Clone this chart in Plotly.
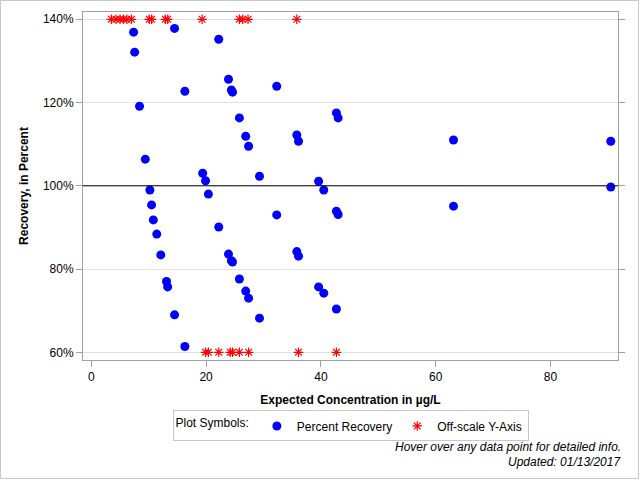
import plotly.graph_objects as go

# Percent recovery points (expected concentration in ug/L, recovery %)
rec_x = [7.37, 7.55, 14.5, 16.3, 8.4, 9.4, 19.4, 19.9, 22.2, 23.9, 24.4, 24.6, 32.3,
         25.8, 26.9, 27.4, 35.8, 36.1, 42.7, 43.0, 29.3, 39.6, 10.2, 10.5, 10.8, 11.4,
         12.1, 13.1, 13.3, 14.5, 16.3, 20.4, 22.2, 32.3, 23.9, 24.4, 24.6, 35.8, 36.1,
         25.8, 26.9, 27.4, 29.3, 39.6, 40.5, 42.7, 43.0, 42.7, 40.5, 63.1, 90.5, 90.5, 63.1]
rec_y = [136.9, 132.1, 137.8, 122.7, 119.1, 106.4, 103.0, 101.2, 135.2, 125.6, 123.0, 122.5, 123.9,
         116.3, 111.9, 109.5, 112.2, 110.7, 117.5, 116.3, 102.3, 101.1, 99.0, 95.4, 91.8, 88.4,
         83.4, 77.0, 75.7, 69.0, 61.4, 98.0, 90.1, 93.0, 83.6, 82.0, 81.7, 84.2, 83.1,
         77.6, 74.7, 73.0, 68.2, 75.7, 74.2, 93.9, 93.1, 70.4, 99.0, 111.0, 110.7, 99.7, 95.1]

# Off-scale points, plotted at the axis limits
off_x = [3.5, 4.3, 5.0, 5.6, 6.2, 7.0, 10.1, 10.5, 12.9, 13.3, 19.3, 25.8, 26.4, 27.3, 35.8,
         19.9, 20.4, 22.2, 24.2, 24.6, 25.8, 27.4, 36.1, 42.7]
off_y = [140] * 15 + [60] * 9

y_ticks = [60, 80, 100, 120, 140]
y_labels = ["60%", "80%", "100%", "120%", "140%"]
x_ticks = [0, 20, 40, 60, 80]

FONT = "Liberation Sans, Arial, sans-serif"

fig = go.Figure()
fig.add_trace(go.Scatter(
    x=rec_x, y=rec_y, mode="markers", name="Percent Recovery",
    marker=dict(symbol="circle", size=9, color="#0000FF", line=dict(width=0)),
))
fig.add_trace(go.Scatter(
    x=off_x, y=off_y, mode="markers", name="Off-scale Y-Axis",
    marker=dict(symbol="asterisk-open", size=8, color="#FF0000",
                line=dict(width=1.2, color="#FF0000")),
))

fig.update_layout(
    width=640, height=480,
    margin=dict(l=83, r=22, t=12, b=120),
    paper_bgcolor="white", plot_bgcolor="white",
    font=dict(family=FONT, size=12, color="#000000"),
    showlegend=True,
    legend=dict(
        orientation="h", x=0.5, xanchor="center", y=-0.145, yanchor="top",
        title=dict(text="Plot Symbols:", side="left", font=dict(size=12)),
        bordercolor="#C8C8C8", borderwidth=1, font=dict(size=12),
        itemwidth=30, tracegroupgap=0,
    ),
    xaxis=dict(
        range=[-1.45, 91.76], tickvals=x_ticks, showgrid=False, zeroline=False,
        showline=True, linecolor="#A0A0A0", linewidth=1, mirror=True,
        ticks="outside", ticklen=6, tickcolor="#A0A0A0",
        tickfont=dict(size=12, color="#000000"),
        title=dict(text="<b>Expected Concentration in µg/L</b>", standoff=12,
                   font=dict(size=12)),
    ),
    yaxis=dict(
        range=[58.15, 141.75], tickvals=y_ticks, ticktext=y_labels,
        showgrid=True, gridcolor="#E1E1E1", gridwidth=1, zeroline=False,
        showline=True, linecolor="#A0A0A0", linewidth=1, mirror="ticks",
        ticks="outside", ticklen=6, tickcolor="#A0A0A0",
        tickfont=dict(size=12, color="#000000"),
        title=dict(text="<b>Recovery, in Percent</b>", standoff=11,
                   font=dict(size=12)),
    ),
    shapes=[
        dict(type="line", xref="paper", yref="y", x0=0, x1=1, y0=100, y1=100,
             line=dict(color="#000000", width=1)),
        dict(type="rect", xref="paper", yref="paper", x0=-0.1542, x1=1.0383,
             y0=-0.3405, y1=1.033, line=dict(color="#C8C8C8", width=1),
             layer="below"),
    ],
    annotations=[
        dict(text="<i>Hover over any data point for detailed info.</i>",
             xref="paper", yref="paper", x=1.0093, y=-0.25, xanchor="right",
             yanchor="middle", showarrow=False, font=dict(size=12)),
        dict(text="<i>Updated: 01/13/2017</i>",
             xref="paper", yref="paper", x=1.0093, y=-0.293, xanchor="right",
             yanchor="middle", showarrow=False, font=dict(size=12)),
    ],
)

fig.write_html("out.html")
